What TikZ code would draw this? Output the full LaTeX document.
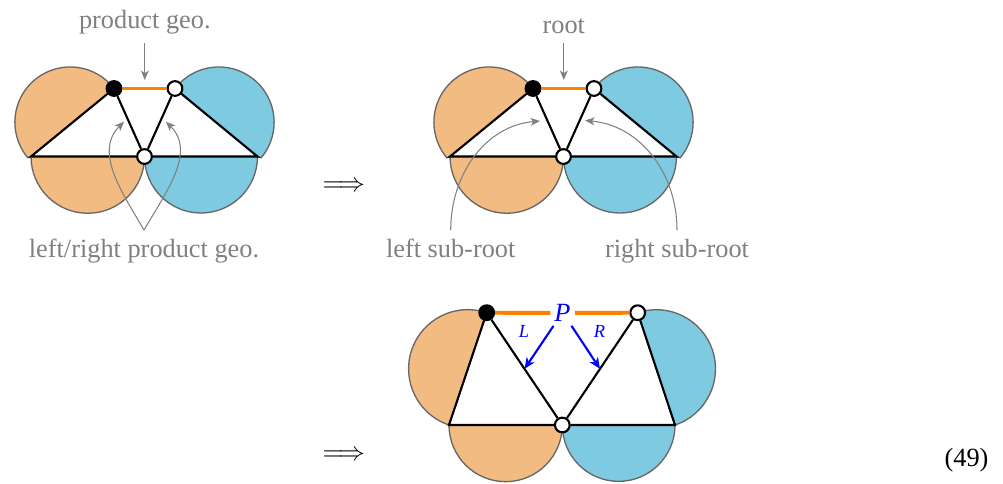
\documentclass[tikz,border=0pt]{standalone}
\usepackage{fontspec}
\setmainfont{Liberation Serif}
\usetikzlibrary{calc,arrows.meta}
\pgfdeclarelayer{background}
\pgfsetlayers{background,main}
\definecolor{lobeorange}{RGB}{241,187,129}
\definecolor{lobeblue}{RGB}{126,202,224}
\definecolor{rootorange}{RGB}{255,128,0}
\tikzset{
  vtx/.style={circle, draw, line width=0.8pt, fill=white, inner sep=0pt, minimum size=5.6pt},
  rootvtx/.style={vtx, fill=black},
  tri/.style={line width=0.8pt},
  rootedge/.style={line width=1.5pt, rootorange},
  lobe/.style={draw=black!60, line width=0.5pt},
  note/.style={color=black!50, -{Stealth[length=3.6pt, width=3pt, inset=1pt]}},
  lr/.style={thick, blue, -{Stealth[length=4.2pt, width=3.6pt, inset=1.2pt]}},
}
\begin{document}
\begin{tikzpicture}[x=0.38pt, y=0.38pt]
  \useasboundingbox (0,0) rectangle (1003,-483);
  % top row: the same geodesic picture twice
  \foreach \dx/\nm in {0/l,419/r} {
    \begin{scope}[shift={(\dx,0)}]
      \coordinate (\nm D) at (31,-156.5);
      \coordinate (\nm E) at (257.5,-156.5);
      \node[rootvtx] (\nm A) at (114,-88.5) {};
      \node[vtx] (\nm B) at (175,-88.5) {};
      \node[vtx] (\nm C) at (144.5,-156.5) {};
      \begin{pgfonlayer}{background}
        \filldraw[lobe, fill=lobeorange] (\nm A.center) arc[start angle=37.6, end angle=220, radius=55.3] -- (\nm D) -- cycle;
        \filldraw[lobe, fill=lobeblue] (\nm B.center) arc[start angle=142.4, end angle=-40, radius=55.3] -- (\nm E) -- cycle;
        \filldraw[lobe, fill=lobeorange] (\nm D) arc[start angle=180, end angle=360, radius=56.75] -- cycle;
        \filldraw[lobe, fill=lobeblue] (\nm C.center) arc[start angle=180, end angle=360, radius=56.5] -- cycle;
      \end{pgfonlayer}
      \draw[tri] (\nm A) -- (\nm D) -- (\nm C) -- (\nm A);
      \draw[tri] (\nm B) -- (\nm E) -- (\nm C) -- (\nm B);
      \draw[rootedge] (\nm A) -- (\nm B);
    \end{scope}
  }
  % notes on the left picture
  \node[note, above] (prodgeo) at (144.8,-43) {product geo.};
  \coordinate (lroot) at (144.8,-80);
  \draw[note] (prodgeo) -- (lroot);
  \node[note, below] (lrgeo) at (144,-230) {left/right product geo.};
  \coordinate (ltipL) at (124,-121.7);
  \coordinate (ltipR) at (166,-121.7);
  \draw[note] (lrgeo.north) to[out=120, in=225] (ltipL);
  \draw[note] (lrgeo.north) to[out=60, in=315] (ltipR);
  % notes on the right picture
  \node[note, above] (rootlbl) at (563.8,-43) {root};
  \coordinate (rroot) at (563.8,-80);
  \draw[note] (rootlbl) -- (rroot);
  \node[note, below] (lsub) at (450.7,-230) {left sub-root};
  \node[note, below] (rsub) at (677,-230) {right sub-root};
  \coordinate (rtipL) at (540,-121);
  \coordinate (rtipR) at (585,-120.5);
  \draw[note] (lsub.north) to[out=90, in=185] (rtipL);
  \draw[note] (rsub.north) to[out=90, in=-5] (rtipR);
  % implications
  \node (imp1) at (343.8,-187) {$\Longrightarrow$};
  \node (imp2) at (343.8,-455.7) {$\Longrightarrow$};
  % bottom picture
  \coordinate (D) at (449,-425);
  \coordinate (E) at (675,-425);
  \node[rootvtx] (A) at (486.7,-312.7) {};
  \node[vtx] (B) at (637.7,-312.7) {};
  \node[vtx] (C) at (562.3,-425) {};
  \node[blue, inner sep=1.4pt] (P) at (562.5,-313) {\textit{P}};
  \begin{pgfonlayer}{background}
    \filldraw[lobe, fill=lobeorange] (A.center) arc[start angle=71.4, end angle=251.4, radius=59.23] -- cycle;
    \filldraw[lobe, fill=lobeblue] (E) arc[start angle=-71.6, end angle=108.4, radius=59.17] -- cycle;
    \filldraw[lobe, fill=lobeorange] (D) arc[start angle=180, end angle=360, radius=56.65] -- cycle;
    \filldraw[lobe, fill=lobeblue] (C.center) arc[start angle=180, end angle=360, radius=56.35] -- cycle;
  \end{pgfonlayer}
  \draw[tri] (A) -- (D) -- (C) -- (A);
  \draw[tri] (B) -- (E) -- (C) -- (B);
  \draw[rootedge] (A) -- (P) -- (B);
  \coordinate (Lmid) at ($(A)!0.5!(C)$);
  \coordinate (Rmid) at ($(B)!0.5!(C)$);
  \draw[lr] (P.235) -- (Lmid);
  \draw[lr] (P.305) -- (Rmid);
  \node[blue, font=\scriptsize] (Llbl) at (524,-331.3) {\textit{L}};
  \node[blue, font=\scriptsize] (Rlbl) at (599.5,-331.3) {\textit{R}};
  \node (eqno) at (966.5,-460.5) {(49)};
\end{tikzpicture}
\end{document}
